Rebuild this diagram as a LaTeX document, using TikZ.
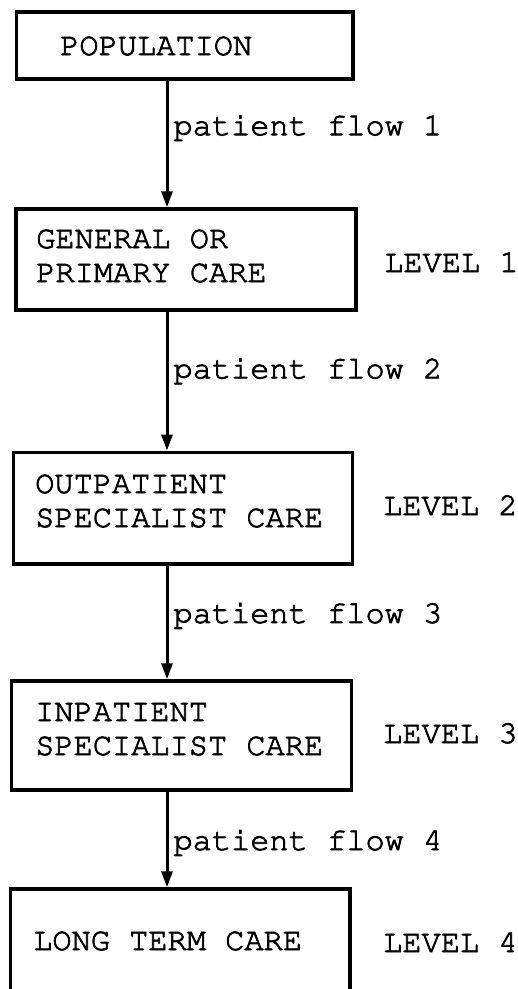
\documentclass[tikz,border=0pt]{standalone}
\usepackage[T1]{fontenc}
\usepackage{courier}
\usetikzlibrary{arrows.meta}
% typewriter ink: fill and stroke the glyphs
\newcommand{\inked}[1]{\special{pdf:literal direct 2 Tr 0.75 w}#1\special{pdf:literal direct 0 Tr}}

\begin{document}
\begin{tikzpicture}[x=1pt, y=-1pt, font=\ttfamily\fontsize{32}{34}\selectfont,
  box/.style={draw, line width=3.5pt, rectangle, inner sep=0pt},
  boxtext/.style={anchor=base west, inner sep=0pt, align=left},
  flow/.style={-{Triangle[length=16pt, width=11pt]}, line width=3pt},
  flowlabel/.style={anchor=base west, inner sep=0pt, xshift=5pt}]
\useasboundingbox (0,0) rectangle (518,989);
\clip (0,0) rectangle (518,989);
% boxes
\node[box, minimum width=336.5pt, minimum height=67pt] (pop) at (184.75,45.5) {};
\node[box, minimum width=340pt, minimum height=101pt] (gen) at (186,259.5) {};
\node[box, minimum width=339pt, minimum height=111.5pt] (outp) at (183,508) {};
\node[box, minimum width=340pt, minimum height=109pt] (inp) at (181.5,735.5) {};
\node[box, minimum width=339.5pt, minimum height=140pt] (long) at (180.25,959) {};
% box texts (base = last line)
\node[boxtext] (poptext) at (60,55) {\inked{POPULATION}};
\node[boxtext] (gentext) at (36,282) {\inked{GENERAL OR}\\\inked{PRIMARY CARE}};
\node[boxtext] (outptext) at (35,527) {\inked{OUTPATIENT}\\\inked{SPECIALIST CARE}};
\node[boxtext] (inptext) at (35,755) {\inked{INPATIENT}\\\inked{SPECIALIST CARE}};
\node[boxtext] (longtext) at (33,950) {\inked{LONG TERM CARE}};
% levels
\node[boxtext] (lev1) at (384,272) {\inked{LEVEL 1}};
\node[boxtext] (lev2) at (383,515) {\inked{LEVEL 2}};
\node[boxtext] (lev3) at (383,743) {\inked{LEVEL 3}};
\node[boxtext] (lev4) at (383,952) {\inked{LEVEL 4}};
% patient flows
\coordinate (spine) at (167,0);
\draw[flow] (pop.south -| spine) -- node[flowlabel, pos=0.43] (flow1) {\inked{patient flow 1}} (gen.north -| spine);
\draw[flow] (gen.south -| spine) -- node[flowlabel, pos=0.48] (flow2) {\inked{patient flow 2}} (outp.north -| spine);
\draw[flow] (outp.south -| spine) -- node[flowlabel, pos=0.505] (flow3) {\inked{patient flow 3}} (inp.north -| spine);
\draw[flow] (inp.south -| spine) -- node[flowlabel, pos=0.61] (flow4) {\inked{patient flow 4}} (long.north -| spine);
\end{tikzpicture}
\end{document}
